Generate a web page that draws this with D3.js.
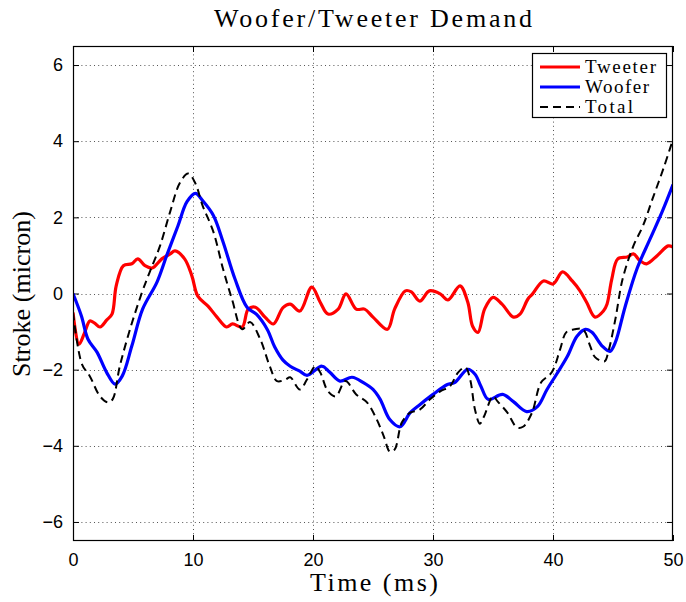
<!DOCTYPE html>
<html><head><meta charset="utf-8">
<script src="https://cdn.jsdelivr.net/npm/d3@7"></script>
<style>body{margin:0;background:#fff}svg{display:block}</style>
</head><body>
<svg id="chart" width="686" height="602"></svg>
<script>
const xTicks = [0, 10, 20, 30, 40, 50];
const yTicks = [-6, -4, -2, 0, 2, 4, 6];
const seriesNames = ["Tweeter", "Woofer", "Total"];

const tweeterT = [0,0.5,1.0,1.4,1.8,2.25,2.8,3.25,3.6,4.2,4.9,5.4,6,6.6,7.4,8.1,8.5,9.3,9.9,10.4,11.25,12,12.8,13.3,14.1,14.6,15.2,16,16.7,17.5,18.1,18.9,19.9,20.6,21.25,22.1,22.75,23.6,24.3,25,26.2,26.8,27.7,28.2,28.9,29.7,30.6,31.25,32.25,32.9,33.3,33.75,34.3,35,35.75,36.7,37.25,37.9,38.3,39.2,40,40.8,41.6,42.25,42.8,43.5,44.2,44.5,44.9,45.4,46.2,46.7,47.25,47.8,48.7,49.6,50];
const tweeterV = [-0.5,-1.33,-1.0,-0.72,-0.78,-0.88,-0.7,-0.54,0.2,0.73,0.78,0.91,0.73,0.67,0.91,1.04,1.12,0.91,0.47,-0.07,-0.33,-0.62,-0.88,-0.8,-0.88,-0.41,-0.36,-0.62,-0.8,-0.37,-0.28,-0.46,0.17,-0.23,-0.54,-0.41,-0.01,-0.41,-0.41,-0.62,-0.94,-0.41,0.07,0.04,-0.2,0.07,-0.01,-0.17,0.2,-0.23,-0.86,-1.02,-0.41,-0.1,-0.28,-0.62,-0.54,-0.15,-0.01,0.33,0.25,0.57,0.33,0.07,-0.23,-0.62,-0.46,-0.28,0.38,0.91,0.96,1.04,0.86,0.78,1.0,1.25,1.22];

const wooferT = [0,0.7,1.25,2,2.8,3.5,4.1,4.9,5.8,7,7.8,8.75,9.5,10.2,10.8,11.7,12.5,13.5,14.5,15.3,16.2,16.8,17.5,18.1,18.9,19.5,20.75,21.4,22.25,23.25,24.2,25,25.6,26.4,27.25,28.1,28.9,30,31.2,31.8,32.9,33.5,34,34.6,35.8,36.7,37.8,38.7,39.5,40.3,41.2,42,42.7,43.25,44.1,44.75,45.2,46,47,48.1,49.1,50];
const wooferV = [0,-0.59,-1.2,-1.54,-2.07,-2.38,-2.17,-1.38,-0.41,0.3,0.99,1.78,2.41,2.63,2.44,2.05,1.36,0.38,-0.36,-0.55,-0.95,-1.4,-1.75,-1.91,-2.04,-2.15,-1.91,-2.07,-2.3,-2.2,-2.34,-2.52,-2.78,-3.31,-3.5,-3.13,-2.92,-2.65,-2.39,-2.34,-1.99,-2.12,-2.44,-2.78,-2.65,-2.84,-3.1,-2.97,-2.52,-2.12,-1.65,-1.12,-0.94,-1.02,-1.38,-1.52,-1.28,-0.36,0.65,1.44,2.15,2.86];

const totalT = [0,0.75,1.4,2.25,2.9,3.3,3.9,4.75,5.75,6.4,7.25,8.1,8.9,9.6,10.2,10.8,11.7,12.5,13.25,14.1,14.75,15.6,16.4,17,17.7,18.1,18.9,19.5,20.2,20.6,21.25,21.9,22.7,23.6,24.5,25.3,25.9,26.4,26.8,27.4,28.1,28.9,29.75,30.6,31.4,32.1,32.7,33.1,33.5,33.9,34.25,35,35.4,36.2,37,37.5,38.25,39,39.9,40.6,41.1,41.8,42.5,43.1,43.5,44.3,44.6,45.2,45.8,46.7,47.5,48.3,49.2,50];
const totalV = [-0.5,-1.86,-2.17,-2.7,-2.86,-2.78,-1.91,-0.94,0.03,0.57,1.25,2.15,2.9,3.15,2.89,2.31,1.62,0.65,-0.15,-0.94,-0.75,-1.2,-1.91,-2.3,-2.26,-2.2,-2.52,-2.26,-1.91,-2.07,-2.57,-2.7,-2.3,-2.65,-2.86,-3.3,-3.75,-4.15,-4.1,-3.39,-3.13,-3.05,-2.78,-2.57,-2.44,-2.07,-1.94,-2.26,-3.05,-3.42,-3.23,-2.7,-2.84,-3.13,-3.52,-3.5,-3.13,-2.34,-2.07,-1.46,-1.02,-0.94,-0.94,-1.38,-1.67,-1.78,-1.54,-0.67,0.38,1.25,1.78,2.49,3.28,4.05];

const L = 73, R = 673, T = 46, B = 541;
const svg = d3.select("#chart");
const x = d3.scaleLinear().domain([0, 50]).range([L, R]);
const y = d3.scaleLinear().domain([-6.5, 6.5]).range([B, T]);

svg.append("rect").attr("x",0).attr("y",0).attr("width",686).attr("height",602).attr("fill","#fff");

// grid
const grid = svg.append("g").attr("stroke","#555").attr("stroke-width",1).attr("stroke-dasharray","1,3.2");
grid.selectAll("line.gx").data(xTicks.slice(1,-1)).join("line")
  .attr("x1",d=>Math.round(x(d))+0.5).attr("x2",d=>Math.round(x(d))+0.5).attr("y1",T).attr("y2",B);
grid.selectAll("line.gy").data(yTicks).join("line")
  .attr("y1",d=>Math.round(y(d))+0.5).attr("y2",d=>Math.round(y(d))+0.5).attr("x1",L).attr("x2",R);

// axes (ticks inside)
const tickFont = "'Liberation Sans', Arial, Helvetica, sans-serif";
const fmt = d => d < 0 ? "\u2212" + Math.abs(d) : String(d);
const axB = svg.append("g").attr("transform",`translate(0,${B})`)
  .call(d3.axisBottom(x).tickValues(xTicks).tickSizeInner(-6).tickSizeOuter(0).tickPadding(12).tickFormat(fmt));
const axT = svg.append("g").attr("transform",`translate(0,${T})`)
  .call(d3.axisTop(x).tickValues(xTicks).tickSizeInner(-6).tickSizeOuter(0).tickFormat(""));
const axL = svg.append("g").attr("transform",`translate(${L},0)`)
  .call(d3.axisLeft(y).tickValues(yTicks).tickSizeInner(-6).tickSizeOuter(0).tickPadding(10).tickFormat(fmt));
const axR = svg.append("g").attr("transform",`translate(${R},0)`)
  .call(d3.axisRight(y).tickValues(yTicks).tickSizeInner(-6).tickSizeOuter(0).tickFormat(""));
[axB, axT, axL, axR].forEach(a => {
  a.attr("font-family", null).attr("font-size", null);
  a.select(".domain").remove();
  a.selectAll("line").attr("stroke","#000");
  a.selectAll("text").style("font-family", tickFont).style("font-size", "18px").attr("fill","#000");
});

// clip
svg.append("clipPath").attr("id","clip").append("rect").attr("x",L).attr("y",T).attr("width",R-L).attr("height",B-T);

const line = d3.line().x(d=>x(d[0])).y(d=>y(d[1])).curve(d3.curveCatmullRom.alpha(0.5));
const zip = (a,b) => a.map((t,i)=>[t,b[i]]);
const series = [
  {name: seriesNames[0], data: zip(tweeterT, tweeterV), color: "#ff0000", width: 3.2, dash: null},
  {name: seriesNames[1], data: zip(wooferT, wooferV), color: "#0000ff", width: 3.2, dash: null},
  {name: seriesNames[2], data: zip(totalT, totalV), color: "#000", width: 2, dash: "8,5"}
];
const lines = svg.append("g").attr("clip-path","url(#clip)");
series.forEach(s => {
  lines.append("path").datum(s.data).attr("d", line).attr("fill","none")
    .attr("stroke", s.color).attr("stroke-width", s.width)
    .attr("stroke-dasharray", s.dash).attr("stroke-linejoin","round").attr("stroke-linecap","butt");
});

// frame
svg.append("rect").attr("x",L+0.5).attr("y",T+0.5).attr("width",R-L-1).attr("height",B-T-1)
  .attr("fill","none").attr("stroke","#000").attr("stroke-width",1.2);

// legend
const serif = "'Liberation Serif', 'DejaVu Serif', serif";
const lg = svg.append("g");
lg.append("rect").attr("x",532.5).attr("y",53.5).attr("width",134).attr("height",64)
  .attr("fill","#fff").attr("stroke","#000").attr("stroke-width",1.2);
series.forEach((s,i) => {
  const yy = 67 + i*20;
  lg.append("line").attr("x1",540).attr("x2",580).attr("y1",yy).attr("y2",yy)
    .attr("stroke", s.color).attr("stroke-width", s.width).attr("stroke-dasharray", s.dash);
  lg.append("text").attr("x",585).attr("y",yy+6).text(s.name)
    .style("font-family", serif).style("font-size", "19px").attr("fill","#000")
    .attr("textLength", [71, 64, 48][i]).attr("lengthAdjust","spacing");
});

// titles
svg.append("text").attr("x",373).attr("y",27).attr("text-anchor","middle")
  .style("font-family", serif).style("font-size", "26px").attr("textLength", 318).attr("lengthAdjust","spacing")
  .text("Woofer/Tweeter Demand");
svg.append("text").attr("x",374).attr("y",591).attr("text-anchor","middle")
  .style("font-family", serif).style("font-size", "26px").attr("textLength", 128).attr("lengthAdjust","spacing")
  .text("Time (ms)");
svg.append("text").attr("transform","translate(30,294) rotate(-90)").attr("text-anchor","middle")
  .style("font-family", serif).style("font-size", "26px").attr("textLength", 166).attr("lengthAdjust","spacing")
  .text("Stroke (micron)");
</script>
</body></html>
